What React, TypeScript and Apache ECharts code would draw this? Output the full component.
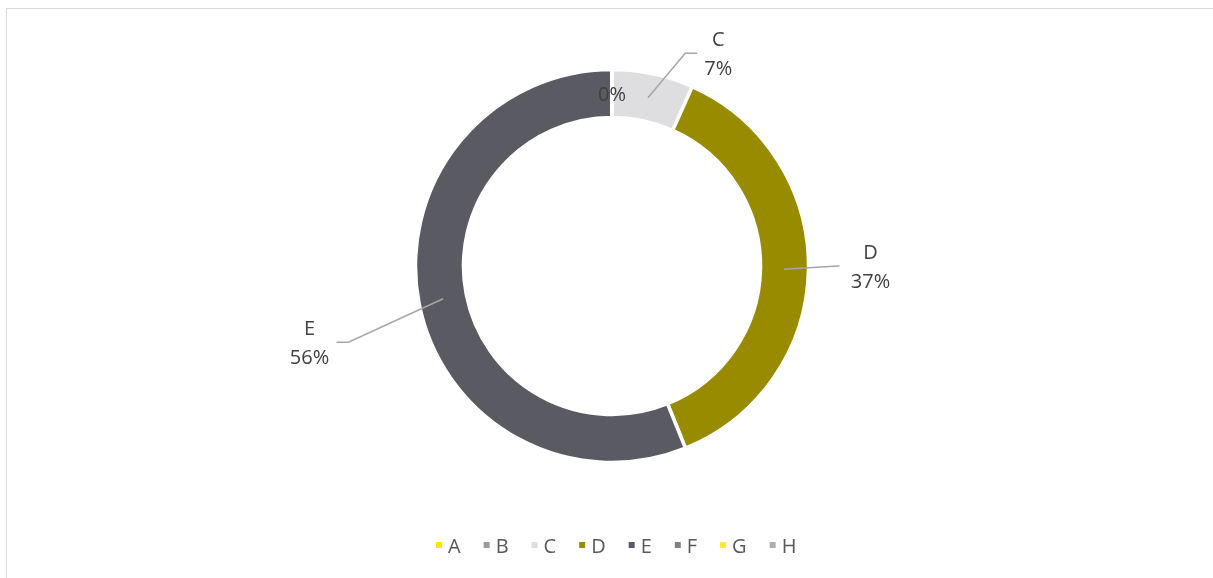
import { useEffect, useRef } from "react";
import * as echarts from "echarts";

const categories = ["A", "B", "C", "D", "E", "F", "G", "H"];
const values = [0, 0, 6.7, 37.2, 56.1, 0, 0, 0];
const colors = ["#FFE600", "#9B9BA3", "#DEDEE1", "#998B00", "#5A5A62", "#7F7F88", "#FFE733", "#ADADB3"];

export default function App() {
  const ref = useRef<HTMLDivElement>(null);
  useEffect(() => {
    const chart = echarts.init(ref.current!, null, { renderer: "svg" });
    const cx = 612, cy = 266, rIn = 148.5, rOut = 196.5, rMid = 172;
    const tweak: Record<string, { dy: number; h2: number; gap: number }> = {
      A: { dy: 3, h2: 0, gap: 0 },
      C: { dy: -1, h2: 12, gap: -2 },
      D: { dy: -4, h2: 2, gap: 8 },
      E: { dy: 35, h2: 12, gap: 4 },
    };
    const lineLen: Record<string, [number, number]> = { C: [20, 33], D: [10, 24], E: [20, 62] };
    const fmt = (p: any) => `{a|${p.name}}\n{a|${Math.round(p.percent)}%}`;
    const ringData = categories.map((name, i) => ({ name, value: values[i], itemStyle: { color: colors[i] } }));
    const labelData = categories.map((name, i) => {
      const v = values[i];
      const item: any = { name, value: v };
      if (name === "A") {
        item.label = { position: "inside", formatter: (p: any) => `{a|${Math.round(p.percent)}%}` };
        item.labelLine = { show: false };
      } else if (v === 0) {
        item.label = { show: false };
        item.labelLine = { show: false };
      } else {
        item.labelLine = { length: lineLen[name][0], length2: lineLen[name][1] };
      }
      return item;
    });
    chart.setOption({
      animation: false,
      legend: {
        data: categories,
        left: 434,
        top: 533,
        padding: 0,
        icon: "rect",
        itemWidth: 8,
        itemHeight: 8,
        itemGap: 21,
        textStyle: { fontFamily: "Open Sans", fontSize: 20, color: "#595959", lineHeight: 24 },
      },
      series: [
        {
          type: "pie",
          z: 2,
          center: [cx, cy],
          radius: [rIn, rOut],
          startAngle: 90,
          clockwise: true,
          silent: true,
          itemStyle: { borderColor: "#ffffff", borderWidth: 3.5 },
          label: { show: false },
          labelLine: { show: false },
          data: ringData,
        },
        {
          type: "pie",
          z: 3,
          center: [cx, cy],
          radius: [rIn, rOut],
          startAngle: 90,
          clockwise: true,
          silent: true,
          avoidLabelOverlap: false,
          itemStyle: { color: "rgba(0,0,0,0)", borderWidth: 0 },
          label: {
            show: true,
            position: "outside",
            formatter: fmt,
            rich: {
              a: { width: 46, align: "center", fontFamily: "Open Sans", fontSize: 20, color: "#404040", lineHeight: 29 },
            },
          },
          labelLine: { show: true, lineStyle: { color: "#A6A6A6", width: 1.5 } },
          labelLayout: (p: any) => {
            const name = categories[p.dataIndex];
            const t = tweak[name];
            if (!t) return {};
            if (!p.labelLinePoints) return { dy: t.dy };
            const pts = p.labelLinePoints;
            const a = Math.atan2(pts[0][1] - cy, pts[0][0] - cx);
            const start = [cx + rMid * Math.cos(a), cy + rMid * Math.sin(a)];
            const r = p.labelRect;
            const isLeft = r.x + r.width / 2 < cx;
            const y = r.y + r.height / 2 + t.dy;
            const endX = isLeft ? r.x + r.width + t.gap : r.x - t.gap;
            const elbowX = isLeft ? endX + t.h2 : endX - t.h2;
            return { dy: t.dy, labelLinePoints: [start, [elbowX, y], [endX, y]] };
          },
          data: labelData,
        },
      ],
    });
    return () => chart.dispose();
  }, []);
  return (
    <>
      <div
        style={{
          position: "fixed",
          left: 6,
          top: 8,
          width: 1400,
          height: 800,
          borderLeft: "1.3px solid #D9D9D9",
          borderTop: "1.3px solid #D9D9D9",
          boxSizing: "border-box",
        }}
      />
      <div ref={ref} style={{ position: "fixed", left: 0, top: 0, width: 1213, height: 578 }} />
    </>
  );
}
